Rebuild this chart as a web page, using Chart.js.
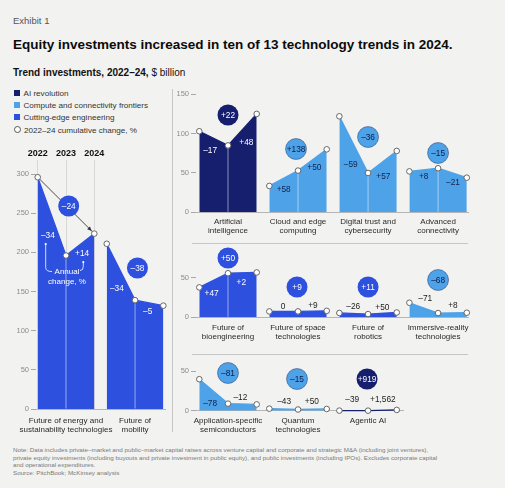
<!DOCTYPE html>
<html>
<head>
<meta charset="utf-8">
<title>Equity investments in technology trends</title>
<script src="https://cdn.jsdelivr.net/npm/chart.js@4.4.1/dist/chart.umd.min.js"></script>
<style>
  html, body { margin:0; padding:0; }
  body { width:505px; height:488px; position:relative; overflow:hidden; background:#f2f2f0;
         font-family:"Liberation Sans", Arial, Helvetica, sans-serif; color:#111; }
  .abs { position:absolute; white-space:nowrap; }
  canvas { position:absolute; }
  #exhibit { left:13px; top:16px; font-size:9.5px; line-height:1; color:#555; }
  #title { left:13px; top:37.9px; font-size:13.5px; line-height:1; font-weight:bold; color:#0b0b0b; }
  #subtitle { left:13px; top:67.5px; font-size:10px; line-height:1; color:#111; }
  .leg { left:14px; font-size:8.1px; line-height:1; color:#333; }
  .sw { display:inline-block; width:6px; height:6px; margin-right:3.5px; }
  .circ { display:inline-block; width:5px; height:5px; border:1px solid #555; border-radius:50%; background:#fff; margin-right:3px; }
  .rule { position:absolute; background:#c6c6c6; }
  #note { left:13px; top:446px; font-size:6.25px; line-height:7.5px; color:#7a7a7a; }
</style>
</head>
<body>
<div id="exhibit" class="abs">Exhibit 1</div>
<div id="title" class="abs">Equity investments increased in ten of 13 technology trends in 2024.</div>
<div id="subtitle" class="abs"><b>Trend investments, 2022–24,</b> $ billion</div>

<div class="abs leg" style="top:90px"><span class="sw" style="background:#161e6e"></span>AI revolution</div>
<div class="abs leg" style="top:102px"><span class="sw" style="background:#4da2e8"></span>Compute and connectivity frontiers</div>
<div class="abs leg" style="top:114px"><span class="sw" style="background:#2d50df"></span>Cutting-edge engineering</div>
<div class="abs leg" style="top:126px"><span class="circ"></span>2022–24 cumulative change, %</div>

<div class="rule" style="left:172px; top:89px; width:1px; height:343px;"></div>
<div class="rule" style="left:192px; top:243px; width:276px; height:1px;"></div>
<div class="rule" style="left:192px; top:354px; width:276px; height:1px;"></div>

<canvas id="cLeft"></canvas>
<canvas id="cTop"></canvas>
<canvas id="cMid"></canvas>
<canvas id="cBot"></canvas>

<div id="note" class="abs">Note: Data includes private–market and public–market capital raises across venture capital and corporate and strategic M&amp;A (including joint ventures),<br>private equity investments (including buyouts and private investment in public equity), and public investments (including IPOs). Excludes corporate capital<br>and operational expenditures.<br>Source: PitchBook; McKinsey analysis</div>

<script>
// ================= DATA =================
const years = ['2022', '2023', '2024'];

// Trend investments, $ billion (2022, 2023, 2024)
const energyValues       = [296, 196, 224];
const mobilityValues     = [211, 139, 132];
const aiValues           = [103, 85, 125];
const cloudValues        = [33.5, 53, 80];
const digitalTrustValues = [122, 50, 78];
const connectivityValues = [52, 56, 44];
const bioengValues       = [38, 56, 57];
const spaceValues        = [7.5, 7.5, 8.2];
const roboticsValues     = [5.5, 4.1, 6.1];
const immersiveValues    = [18.5, 5.4, 5.8];
const semisValues        = [40, 9, 8];
const quantumValues      = [2.6, 1.5, 2.2];
const agenticValues      = [0.1, 0.06, 1.0];

const trendLabels = [
  ['Future of energy and', 'sustainability technologies'],
  ['Future of', 'mobility'],
  ['Artificial', 'intelligence'],
  ['Cloud and edge', 'computing'],
  ['Digital trust and', 'cybersecurity'],
  ['Advanced', 'connectivity'],
  ['Future of', 'bioengineering'],
  ['Future of space', 'technologies'],
  ['Future of', 'robotics'],
  ['Immersive-reality', 'technologies'],
  ['Application-specific', 'semiconductors'],
  ['Quantum', 'technologies'],
  ['Agentic AI']
];
const trendFamilies = ['edge', 'edge', 'ai', 'compute', 'compute', 'compute',
                       'edge', 'edge', 'edge', 'compute', 'compute', 'compute', 'ai'];
const trendValues = [energyValues, mobilityValues, aiValues, cloudValues, digitalTrustValues,
                     connectivityValues, bioengValues, spaceValues, roboticsValues, immersiveValues,
                     semisValues, quantumValues, agenticValues];

// Annual change, % (2022→23, 2023→24)
const annualChangeLabels = [
  ['–34', '+14'], ['–34', '–5'], ['–17', '+48'], ['+58', '+50'], ['–59', '+57'], ['+8', '–21'],
  ['+47', '+2'], ['0', '+9'], ['–26', '+50'], ['–71', '+8'], ['–78', '–12'], ['–43', '+50'],
  ['–39', '+1,562']
];
// 2022–24 cumulative change, %
const cumulativeChangeLabels = ['–24', '–38', '+22', '+138', '–36', '–15', '+50', '+9', '+11',
                                '–68', '–81', '–15', '+919'];

// Tick labels
const leftTicks   = [0, 50, 100, 150, 200, 250, 300];
const topRowTicks = [0, 50, 100, 150];
const midRowTicks = [0, 50];
const botRowTicks = [0, 50];

// ================= STYLE / LAYOUT =================
const familyColor = { ai: '#161e6e', compute: '#4da2e8', edge: '#2d50df' };
const bubbleTextColor = { ai: '#ffffff', compute: '#0c1b48', edge: '#ffffff' };
// annual label offsets [dx, dy] in px from each segment midpoint
const annualOffsets = [
  [[-4, 19], [2, 9]], [[-4, 17], [-1.5, 9]], [[-3.5, 12], [4, 13]], [[0, 11], [2, 8]],
  [[-3, 20], [1, 15]], [[0, 7], [0.5, 10]], [[-2, 13], [-1, 10]], [[-0.5, -5], [0.5, -5.5]],
  [[-0.5, -7], [0, -6]], [[1.5, -9], [0.5, -7]], [[-3.5, 12], [-2, -6]], [[0.5, -7], [-0.5, -8]],
  [[-1.5, -11], [0.5, -11]]
];
// bubble layout [dx from middle year px, rise above baseline px]
const bubbleLayout = [
  [2.7, 203], [2.4, 141], [0, 97.3], [-2, 63.3], [0, 75.3], [0, 59.3],
  [0, 59.3], [-1, 30.3], [0, 30.3], [0, 37.3], [0, 37.7], [-1, 31.7], [-1, 31.7]
];
const GROUP_STEP = 2.44;
const FONT = '"Liberation Sans", Arial, Helvetica, sans-serif';
Chart.defaults.font.family = FONT;

const panels = [
  { id: 'cLeft', trends: [0, 1], left: 0, top: 140, width: 171, height: 300, zero: 409, ppu: 0.783,
    ymax: 310, yTicks: leftTicks, yAxisW: 36, g0: 37.7, unit: 28.3, areaRight: 165, xPad: 7,
    topAxisH: 26.3, cumulativeLine: true },
  { id: 'cTop', trends: [2, 3, 4, 5], left: 160, top: 80, width: 314, height: 162, zero: 212.3, ppu: 0.787,
    ymax: 160, yTicks: topRowTicks, yAxisW: 36, g0: 199.3, unit: 28.7, areaRight: 468, xPad: 5 },
  { id: 'cMid', trends: [6, 7, 8, 9], left: 160, top: 244, width: 314, height: 100, zero: 317.3, ppu: 0.787,
    ymax: 70, yTicks: midRowTicks, yAxisW: 36, g0: 199.3, unit: 28.7, areaRight: 468, xPad: 5.8 },
  { id: 'cBot', trends: [10, 11, 12], left: 160, top: 356, width: 249, height: 84, zero: 410.7, ppu: 0.787,
    ymax: 55, yTicks: botRowTicks, yAxisW: 36, g0: 199.3, unit: 28.7, areaRight: 403, xPad: 5.4 }
];

function annotPlugin(p) {
  return {
    id: 'annot_' + p.id,
    afterDatasetsDraw(chart) {
      const ctx = chart.ctx, xs = chart.scales.x, ys = chart.scales.y;
      const zeroY = ys.getPixelForValue(0);
      ctx.save();
      ctx.textAlign = 'center';
      ctx.textBaseline = 'middle';
      p.trends.forEach((t, gi) => {
        const fam = trendFamilies[t];
        const vals = trendValues[t];
        const px = vals.map((v, i) => xs.getPixelForValue(gi * GROUP_STEP + i));
        const py = vals.map(v => ys.getPixelForValue(v));
        // middle-year divider inside area
        if (zeroY - py[1] > 8) {
          ctx.strokeStyle = 'rgba(255,255,255,0.5)';
          ctx.lineWidth = 1;
          ctx.beginPath();
          ctx.moveTo(px[1], py[1] + 3.3);
          ctx.lineTo(px[1], zeroY - 0.5);
          ctx.stroke();
        }
        // annual change labels
        ctx.font = '8.3px ' + FONT;
        for (let s = 0; s < 2; s++) {
          const [dx, dy] = annualOffsets[t][s];
          const x = (px[s] + px[s + 1]) / 2 + dx;
          const y = (py[s] + py[s + 1]) / 2 + dy;
          if (dy > 0) ctx.fillStyle = fam === 'compute' ? '#13224f' : '#ffffff';
          else ctx.fillStyle = '#1c1c1c';
          ctx.fillText(annualChangeLabels[t][s], x, y);
        }
        // cumulative change bubble
        const [bdx, rise] = bubbleLayout[t];
        const bx = px[1] + bdx, by = zeroY - rise;
        ctx.beginPath();
        ctx.arc(bx, by, 10.5, 0, Math.PI * 2);
        ctx.fillStyle = familyColor[fam];
        ctx.fill();
        if (fam === 'compute') {
          ctx.strokeStyle = 'rgba(20,40,90,0.55)';
          ctx.lineWidth = 0.8;
          ctx.stroke();
        }
        ctx.font = '8.3px ' + FONT;
        ctx.fillStyle = bubbleTextColor[fam];
        ctx.fillText(cumulativeChangeLabels[t], bx, by + 0.5);

        if (p.cumulativeLine && gi === 0) {
          // arrowhead of cumulative line
          const ux = px[2] - px[0], uy = py[2] - py[0];
          const len = Math.hypot(ux, uy), nx = ux / len, ny = uy / len;
          const tipX = px[2] - nx * 3.6, tipY = py[2] - ny * 3.6;
          ctx.beginPath();
          ctx.moveTo(tipX, tipY);
          ctx.lineTo(tipX - nx * 4.5 - ny * 2, tipY - ny * 4.5 + nx * 2);
          ctx.lineTo(tipX - nx * 4.5 + ny * 2, tipY - ny * 4.5 - nx * 2);
          ctx.closePath();
          ctx.fillStyle = '#333';
          ctx.fill();
          // "Annual change, %" explanation
          ctx.fillStyle = '#ffffff';
          ctx.font = '8px ' + FONT;
          ctx.fillText('Annual', px[1] + 1, py[1] + 16);
          ctx.fillText('change, %', px[1] + 1, py[1] + 26);
          ctx.strokeStyle = '#ffffff';
          ctx.lineWidth = 0.8;
          ctx.beginPath();
          ctx.moveTo(px[1] - 20.3, py[1] - 11.5);
          ctx.lineTo(px[1] - 20.3, py[1] + 12);
          ctx.quadraticCurveTo(px[1] - 20.3, py[1] + 16, px[1] - 14, py[1] + 16);
          ctx.stroke();
          ctx.beginPath();
          ctx.arc(px[1] - 20.3, py[1] - 11.5, 1.1, 0, Math.PI * 2);
          ctx.fill();
          ctx.beginPath();
          ctx.moveTo(px[1] + 17.3, py[1] + 6.5);
          ctx.lineTo(px[1] + 17.3, py[1] + 11);
          ctx.quadraticCurveTo(px[1] + 17.3, py[1] + 15, px[1] + 14, py[1] + 15);
          ctx.stroke();
          ctx.beginPath();
          ctx.arc(px[1] + 17.3, py[1] + 6.5, 1.1, 0, Math.PI * 2);
          ctx.fill();
        }
      });
      ctx.restore();
    }
  };
}

function buildPanel(p) {
  const canvas = document.getElementById(p.id);
  canvas.width = p.width;
  canvas.height = p.height;
  canvas.style.left = p.left + 'px';
  canvas.style.top = p.top + 'px';
  const areaTop = p.zero - p.ymax * p.ppu;
  const padTop = p.topAxisH ? (areaTop - p.top - p.topAxisH) : (areaTop - p.top);
  const xAxisH = p.top + p.height - p.zero;
  const areaLeft = p.left + p.yAxisW;
  const padRight = p.left + p.width - p.areaRight;
  const xmin = (areaLeft - p.g0) / p.unit;
  const xmax = (p.areaRight - p.g0) / p.unit;

  const datasets = p.trends.map((t, gi) => {
    const c = familyColor[trendFamilies[t]];
    return {
      type: 'line',
      data: trendValues[t].map((v, i) => ({ x: gi * GROUP_STEP + i, y: v })),
      backgroundColor: c,
      borderColor: c,
      borderWidth: 1.3,
      fill: 'origin',
      tension: 0,
      pointRadius: 2.8,
      pointBackgroundColor: '#ffffff',
      pointBorderColor: '#666666',
      pointBorderWidth: 1,
      clip: false,
      order: 0
    };
  });
  if (p.cumulativeLine) {
    const v = trendValues[p.trends[0]];
    datasets.push({
      type: 'line',
      data: [{ x: 0, y: v[0] }, { x: 2, y: v[2] }],
      borderColor: '#3a3a3a',
      borderWidth: 0.9,
      pointRadius: 0,
      fill: false,
      clip: false,
      order: 1
    });
  }

  const scales = {
    x: {
      type: 'linear', position: 'bottom', min: xmin, max: xmax, bounds: 'data',
      afterBuildTicks: s => { s.ticks = p.trends.map((t, gi) => ({ value: gi * GROUP_STEP + 1 })); },
      afterFit: s => { s.height = xAxisH; s.paddingLeft = 0; s.paddingRight = 0; },
      ticks: {
        autoSkip: false, maxRotation: 0, minRotation: 0, padding: p.xPad, color: '#2a2a2a',
        font: { size: 8, lineHeight: 1.15 },
        callback: (v, i) => trendLabels[p.trends[i]]
      },
      grid: { display: true, drawOnChartArea: false, drawTicks: false },
      border: { display: true, color: '#b5b5b5', width: 1 }
    },
    y: {
      type: 'linear', min: 0, max: p.ymax, bounds: 'data',
      afterBuildTicks: s => { s.ticks = p.yTicks.map(v => ({ value: v })); },
      afterFit: s => { s.width = p.yAxisW; s.paddingTop = 0; s.paddingBottom = 0; },
      ticks: { padding: 2, color: '#8c8c8c', font: { size: 7.5 }, callback: v => String(v) },
      grid: { drawOnChartArea: false, drawTicks: true, tickLength: 5, tickColor: '#a8a8a8', lineWidth: 1 },
      border: { display: false }
    }
  };
  if (p.topAxisH) {
    scales.x2 = {
      type: 'linear', position: 'top', min: xmin, max: xmax, bounds: 'data',
      afterBuildTicks: s => { s.ticks = years.map((y, i) => ({ value: i })); },
      afterFit: s => { s.height = p.topAxisH; s.paddingLeft = 0; s.paddingRight = 0; },
      ticks: {
        autoSkip: false, maxRotation: 0, minRotation: 0, padding: 1, color: '#111',
        font: { size: 9, weight: 'bold' },
        callback: (v, i) => years[i]
      },
      grid: { display: true, drawOnChartArea: true, color: '#cfcfcf', lineWidth: 0.8,
              drawTicks: true, tickLength: 6, tickColor: '#cfcfcf' },
      border: { display: false }
    };
  }

  return new Chart(canvas, {
    type: 'line',
    data: { datasets },
    options: {
      responsive: false,
      animation: false,
      events: [],
      layout: { padding: { top: padTop, right: padRight, bottom: 0, left: 0 } },
      plugins: { legend: { display: false }, tooltip: { enabled: false } },
      scales
    },
    plugins: [annotPlugin(p)]
  });
}

panels.forEach(buildPanel);
</script>
</body>
</html>
